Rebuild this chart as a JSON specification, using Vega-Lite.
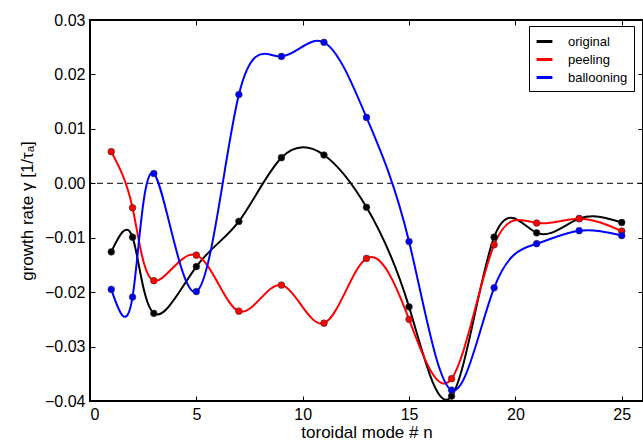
{
  "$schema": "https://vega.github.io/schema/vega-lite/v6.json",
  "width": 553,
  "height": 381,
  "autosize": {"type": "none"},
  "padding": {"left": 90, "top": 20, "right": 0, "bottom": 47},
  "background": "white",
  "config": {
    "font": "Liberation Sans",
    "view": {"stroke": "black", "strokeWidth": 2},
    "axis": {"labelFont": "Liberation Sans", "titleFont": "Liberation Sans", "labelFontSize": 16, "titleFontSize": 17, "labelColor": "black", "titleColor": "black", "titleFontWeight": "normal", "grid": false, "domain": false, "tickColor": "black", "tickWidth": 1, "tickSize": -5}
  },
  "datasets": {
    "rates": [
      {"n": 1, "g": -0.0126, "s": "original"},
      {"n": 2, "g": -0.0099, "s": "original"},
      {"n": 3, "g": -0.0239, "s": "original"},
      {"n": 5, "g": -0.0153, "s": "original"},
      {"n": 7, "g": -0.0070, "s": "original"},
      {"n": 9, "g": 0.0047, "s": "original"},
      {"n": 11, "g": 0.0052, "s": "original"},
      {"n": 13, "g": -0.0044, "s": "original"},
      {"n": 15, "g": -0.0227, "s": "original"},
      {"n": 17, "g": -0.0391, "s": "original"},
      {"n": 19, "g": -0.0099, "s": "original"},
      {"n": 21, "g": -0.0091, "s": "original"},
      {"n": 23, "g": -0.0065, "s": "original"},
      {"n": 25, "g": -0.0072, "s": "original"},
      {"n": 1, "g": 0.0058, "s": "peeling"},
      {"n": 2, "g": -0.0045, "s": "peeling"},
      {"n": 3, "g": -0.0179, "s": "peeling"},
      {"n": 5, "g": -0.0132, "s": "peeling"},
      {"n": 7, "g": -0.0235, "s": "peeling"},
      {"n": 9, "g": -0.0187, "s": "peeling"},
      {"n": 11, "g": -0.0257, "s": "peeling"},
      {"n": 13, "g": -0.0138, "s": "peeling"},
      {"n": 15, "g": -0.0250, "s": "peeling"},
      {"n": 17, "g": -0.0359, "s": "peeling"},
      {"n": 19, "g": -0.0113, "s": "peeling"},
      {"n": 21, "g": -0.0073, "s": "peeling"},
      {"n": 23, "g": -0.0065, "s": "peeling"},
      {"n": 25, "g": -0.0088, "s": "peeling"},
      {"n": 1, "g": -0.0195, "s": "ballooning"},
      {"n": 2, "g": -0.0209, "s": "ballooning"},
      {"n": 3, "g": 0.0018, "s": "ballooning"},
      {"n": 5, "g": -0.0199, "s": "ballooning"},
      {"n": 7, "g": 0.0163, "s": "ballooning"},
      {"n": 9, "g": 0.0233, "s": "ballooning"},
      {"n": 11, "g": 0.0259, "s": "ballooning"},
      {"n": 13, "g": 0.0121, "s": "ballooning"},
      {"n": 15, "g": -0.0107, "s": "ballooning"},
      {"n": 17, "g": -0.0380, "s": "ballooning"},
      {"n": 19, "g": -0.0192, "s": "ballooning"},
      {"n": 21, "g": -0.0111, "s": "ballooning"},
      {"n": 23, "g": -0.0087, "s": "ballooning"},
      {"n": 25, "g": -0.0096, "s": "ballooning"}
    ]
  },
  "layer": [
    {
      "data": {"values": [{"zero": 0}]},
      "mark": {"type": "rule", "color": "black", "strokeWidth": 1, "strokeDash": [6, 4]},
      "encoding": {
        "y": {"field": "zero", "type": "quantitative", "scale": {"domain": [-0.04, 0.03], "nice": false}, "axis": {"orient": "left", "title": "growth rate γ [1/τₐ]", "values": [-0.04, -0.03, -0.02, -0.01, 0, 0.01, 0.02, 0.03], "format": ".2f", "labelPadding": 10, "titlePadding": 8}}
      }
    },
    {
      "data": {"name": "rates"},
      "encoding": {
        "x": {"field": "n", "type": "quantitative", "scale": {"domain": [0, 26], "nice": false}, "axis": {"orient": "bottom", "title": "toroidal mode # n", "values": [0, 5, 10, 15, 20, 25], "labelPadding": 10, "titlePadding": 2}},
        "y": {"field": "g", "type": "quantitative", "axis": null}
      },
      "layer": [
        {
          "mark": {"type": "line", "interpolate": "natural", "strokeWidth": 2, "clip": true},
          "encoding": {
            "color": {"field": "s", "type": "nominal", "scale": {"domain": ["original", "peeling", "ballooning"], "range": ["black", "#ff0000", "#0000ff"]}, "legend": {"title": null, "orient": "none", "legendX": 439, "legendY": 6, "symbolType": "stroke", "symbolStrokeWidth": 3, "symbolSize": 250, "labelFontSize": 13, "labelFont": "Liberation Sans", "labelColor": "black", "strokeColor": "black", "fillColor": "white", "padding": 6, "rowPadding": 1, "labelOffset": 14}}
          }
        },
        {
          "mark": {"type": "point", "filled": true, "size": 45, "opacity": 1, "strokeWidth": 0.6, "stroke": "#333333"},
          "encoding": {
            "color": {"field": "s", "type": "nominal", "legend": null}
          }
        }
      ]
    },
    {
      "data": {"values": [{"zero": 0}]},
      "mark": {"type": "point", "opacity": 0},
      "encoding": {
        "x": {"field": "zero", "type": "quantitative", "axis": {"orient": "top", "labels": false, "title": null, "values": [0, 5, 10, 15, 20, 25]}},
        "y": {"field": "zero", "type": "quantitative", "axis": {"orient": "right", "labels": false, "title": null, "values": [-0.04, -0.03, -0.02, -0.01, 0, 0.01, 0.02, 0.03]}}
      }
    }
  ],
  "resolve": {"axis": {"x": "independent", "y": "independent"}}
}
